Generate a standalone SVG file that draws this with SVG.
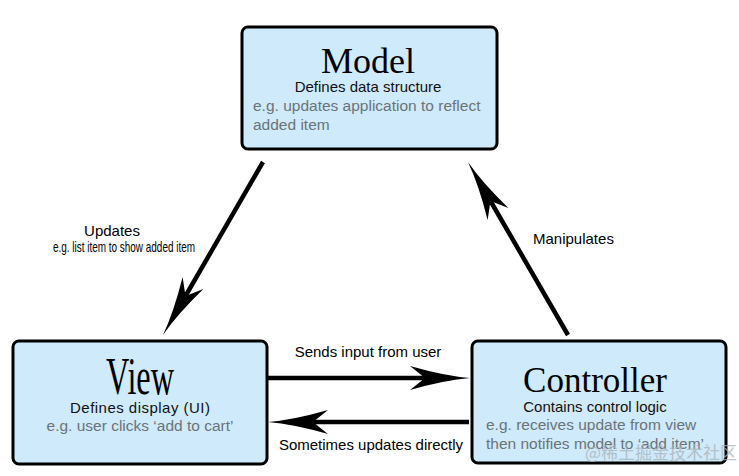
<svg xmlns="http://www.w3.org/2000/svg" width="739" height="476" viewBox="0 0 739 476">
<style>
.box{fill:#cfeafa;stroke:#000;stroke-width:3}
.title{font-family:"Liberation Serif","Times New Roman",serif;fill:#000;text-anchor:middle}
.sub{font-family:"Liberation Sans",Arial,sans-serif;font-size:15px;fill:#111;text-anchor:middle}
.eg{font-family:"Liberation Sans",Arial,sans-serif;font-size:15.5px;fill:#6b7378}
.lbl{font-family:"Liberation Sans",Arial,sans-serif;font-size:15px;fill:#000}
.conn{stroke:#000;stroke-width:4.5;fill:none;marker-end:url(#ah)}
.wm{font-family:"Noto Sans CJK SC","Liberation Sans",sans-serif;font-size:17px;fill:#a9b2b8;opacity:0.75}
</style>
<defs>
<marker id="ah" markerUnits="userSpaceOnUse" markerWidth="70" markerHeight="30" refX="15" refY="15" viewBox="0 0 70 30" orient="auto" overflow="visible">
<path d="M60,15 Q35,13 0,3 L15,15 L0,27 Q35,17 60,15 Z" fill="#000"/>
</marker>
</defs>
<rect width="739" height="476" fill="#fff"/>
<g id="connectors">
<line class="conn" x1="263" y1="162" x2="185.5" y2="296"/>
<line class="conn" x1="568" y1="335" x2="490.5" y2="201"/>
<line class="conn" x1="268" y1="378" x2="425" y2="378"/>
<line class="conn" x1="469" y1="422" x2="313" y2="422"/>
<text class="lbl" x="112" y="236" text-anchor="middle">Updates</text>
<text class="lbl" x="53" y="252" font-size="12" textLength="142" lengthAdjust="spacingAndGlyphs" fill="#333">e.g. list item to show added item</text>
<text class="lbl" x="533" y="244">Manipulates</text>
<text class="lbl" x="368" y="357" text-anchor="middle">Sends input from user</text>
<text class="lbl" x="371" y="450" text-anchor="middle">Sometimes updates directly</text>
</g>
<g id="model">
<rect class="box" x="242" y="27" width="255" height="122" rx="6"/>
<text class="title" x="368" y="73" font-size="36">Model</text>
<text class="sub" x="368" y="92">Defines data structure</text>
<text class="eg" x="253" y="111">e.g. updates application to reflect</text>
<text class="eg" x="253" y="130">added item</text>
</g>
<g id="view">
<rect class="box" x="13" y="341" width="254" height="123" rx="6"/>
<text class="title" x="140" y="394" font-size="52" textLength="68" lengthAdjust="spacingAndGlyphs">View</text>
<text class="sub" x="140" y="413" textLength="140" lengthAdjust="spacing">Defines display (UI)</text>
<text class="eg" x="140" y="431" text-anchor="middle">e.g. user clicks ‘add to cart’</text>
</g>
<g id="controller">
<rect class="box" x="472" y="341" width="254" height="122" rx="6"/>
<text class="title" x="595" y="392" font-size="35">Controller</text>
<text class="sub" x="595" y="412">Contains control logic</text>
<text class="eg" x="486" y="430">e.g. receives update from view</text>
<text class="eg" x="486" y="449">then notifies model to ‘add item’</text>
<text class="wm" x="585" y="459">@稀土掘金技术社区</text>
</g>
</svg>
